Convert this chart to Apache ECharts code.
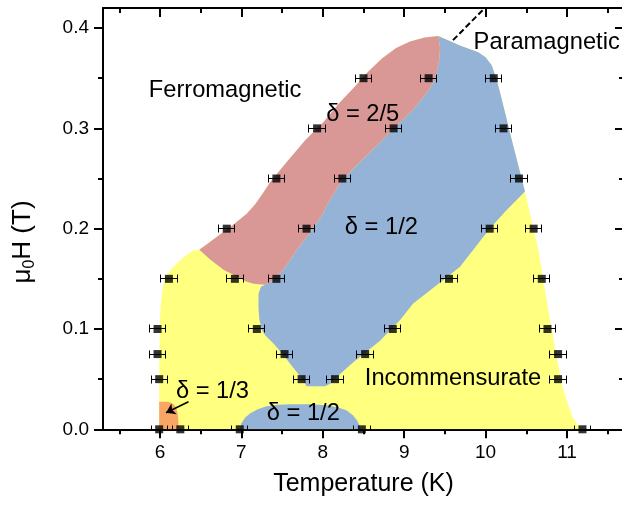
<!DOCTYPE html>
<html><head><meta charset="utf-8">
<script src="https://cdn.jsdelivr.net/npm/echarts@6/dist/echarts.min.js"></script>
<style>html,body{margin:0;padding:0;background:#fff}#c{width:622px;height:508px}</style>
</head><body><div id="c"></div>
<script>
const FONT = '"Liberation Sans", Arial, Helvetica, sans-serif';

// ---- phase-region outlines: [Temperature (K), mu0H (T)] ----
const envelope = [[5.99,0],[5.99,0.06],[6.0,0.11],[6.01,0.125],[6.03,0.14],[6.06,0.15],[6.12,0.158],[6.2,0.165],[6.3,0.172],[6.4,0.178],[6.483,0.179],
  [6.6,0.186],[6.7,0.192],[6.9,0.204],[7.065,0.215],[7.167,0.224],[7.27,0.236],[7.35,0.246],[7.557,0.2665],[7.781,0.288],[8.006,0.306],[8.211,0.326],[8.375,0.34],[8.55,0.356],[8.723,0.3695],[8.9,0.38],[9.071,0.3867],[9.25,0.3905],[9.419,0.392],
  [9.7,0.382],[9.91,0.376],[10.0,0.371],[10.075,0.363],[10.13,0.35],[10.177,0.336],[10.33,0.286],[10.484,0.237],[10.648,0.179],[10.791,0.109],[10.934,0.046],[10.995,0.029],[11.06,0.014],[11.16,0]];

const bluePhase = [[9.419,0.392],[9.7,0.382],[9.91,0.376],[10.0,0.371],[10.075,0.363],[10.13,0.35],[10.177,0.336],[10.33,0.286],[10.484,0.237],
  [10.25,0.218],[10.05,0.2],[9.686,0.162],[9.5,0.15],[9.26,0.135],[9.11,0.1255],[8.95,0.109],[8.7,0.088],[8.5,0.075],[8.35,0.065],[8.21,0.055],[8.1,0.046],[8.03,0.043],
  [7.8,0.043],[7.76,0.049],[7.65,0.06],[7.515,0.074],[7.4,0.085],[7.3,0.093],[7.25,0.099],[7.22,0.11],[7.21,0.12],[7.21,0.135],[7.24,0.142],[7.29,0.144],
  [7.38,0.148],[7.47,0.155],[7.55,0.163],[7.68,0.179],[7.85,0.197],[8.0,0.215],[8.048,0.223],[8.23,0.248],[8.457,0.2665],[8.7,0.286],[8.95,0.306],[9.1,0.318],[9.234,0.331],[9.3,0.338],[9.357,0.346],[9.4,0.357],[9.43,0.368],[9.44,0.38]];

const pinkPhase = [[6.483,0.179],[6.6,0.186],[6.7,0.192],[6.9,0.204],[7.065,0.215],[7.167,0.224],[7.27,0.236],[7.35,0.246],[7.557,0.2665],[7.781,0.288],[8.006,0.306],[8.211,0.326],[8.375,0.34],[8.55,0.356],[8.723,0.3695],[8.9,0.38],[9.071,0.3867],[9.25,0.3905],[9.419,0.392],
  [9.44,0.38],[9.43,0.368],[9.4,0.357],[9.357,0.346],[9.3,0.338],[9.234,0.331],[9.1,0.318],[8.95,0.306],[8.7,0.286],[8.457,0.2665],[8.23,0.248],[8.048,0.223],[8.0,0.215],[7.85,0.197],[7.68,0.179],[7.55,0.163],[7.47,0.155],[7.38,0.148],[7.29,0.144],
  [7.15,0.145],[7.065,0.147],[6.9,0.154],[6.78,0.159],[6.62,0.169]];

const blueLow = [[6.98,0],[7.0,0.006],[7.05,0.012],[7.11,0.016],[7.2,0.02],[7.31,0.023],[7.45,0.0245],[7.6,0.025],[7.85,0.025],[8.05,0.024],[8.18,0.022],[8.29,0.019],[8.37,0.014],[8.42,0.009],[8.45,0.004],[8.46,0]];

const orangePhase = [[5.99,0],[5.99,0.0275],[6.08,0.0275],[6.13,0.0268],[6.17,0.0248],[6.2,0.021],[6.215,0.016],[6.225,0.01],[6.23,0]];

// ---- measured points (T in K, H in T) with horizontal errors ----
const pointsT = [8.50,9.30,10.10, 7.93,8.87,10.22, 7.43,8.24,10.41, 6.82,7.80,10.05,10.59, 6.11,6.92,7.43,9.55,10.69, 5.97,7.19,8.86,10.76, 5.97,7.53,8.52,10.89, 5.99,7.74,8.15,10.89, 5.99,6.25,6.98,8.48,11.19];
const pointsH = [0.35,0.35,0.35, 0.30,0.30,0.30, 0.25,0.25,0.25, 0.20,0.20,0.20,0.20, 0.15,0.15,0.15,0.15,0.15, 0.10,0.10,0.10,0.10, 0.075,0.075,0.075,0.075, 0.05,0.05,0.05,0.05, 0,0,0,0,0];
const errT = pointsT.map(() => 0.1);

// ---- pointer lines ----
const paraPointer = [[9.60,0.388],[9.99,0.42]];
const arrowOneThird = [[6.35,0.0275],[6.074,0.0165]];

// ---- ticks ----
const xMajorTicks = [6,7,8,9,10,11];
const xMinorTicks = [5.5,6.5,7.5,8.5,9.5,10.5,11.5];
const yMajorTicks = [0,0.1,0.2,0.3,0.4];
const yMinorTicks = [0.05,0.15,0.25,0.35];

// ---- annotations ----
const annotations = [
  {text:'Ferromagnetic', T:6.80, H:0.338},
  {text:'δ = 2/5', T:8.49, H:0.3135},
  {text:'δ = 1/2', T:8.72, H:0.2015},
  {text:'Paramagnetic', T:10.75, H:0.386},
  {text:'Incommensurate', T:9.60, H:0.051},
  {text:'δ = 1/3', T:6.645, H:0.038},
  {text:'δ = 1/2', T:7.76, H:0.0155}
];

const X_MIN = 5.3, X_MAX = 11.7, Y_MIN = 0, Y_MAX = 0.42;
const lineBlack = {color:'#000', width:2};

function xAx(pos, ticks, len, inside, showLine, showLabel, extra) {
  return Object.assign({
    type:'value', min:X_MIN, max:X_MAX, position:pos, gridIndex:0,
    axisLine:{show:showLine, onZero:false, lineStyle:lineBlack},
    axisTick:{show:true, customValues:ticks, length:len, inside:inside, lineStyle:lineBlack},
    axisLabel:{show:showLabel, customValues:xMajorTicks, color:'#000', fontSize:19, fontFamily:FONT, margin:14},
    splitLine:{show:false}, minorTick:{show:false}
  }, extra || {});
}
function yAx(pos, ticks, len, inside, showLine, showLabel) {
  return {
    type:'value', min:Y_MIN, max:Y_MAX, position:pos, gridIndex:0,
    axisLine:{show:showLine, onZero:false, lineStyle:lineBlack},
    axisTick:{show:true, customValues:ticks, length:len, inside:inside, lineStyle:lineBlack},
    axisLabel:{show:showLabel, customValues:yMajorTicks, color:'#000', fontSize:19, fontFamily:FONT, margin:14,
      formatter:v => Number(v).toFixed(1)},
    splitLine:{show:false}, minorTick:{show:false}
  };
}

function regionSeries(name, pts, color) {
  return {
    type:'custom', name, coordinateSystem:'cartesian2d', xAxisIndex:0, yAxisIndex:0,
    clip:true, silent:true, z:1, data:pts,
    renderItem(params, api) {
      if (params.dataIndex !== 0) return null;
      return {type:'polygon', shape:{points:pts.map(p => api.coord(p))}, style:{fill:color}};
    }
  };
}

const crisp = v => Math.round(v - 0.5) + 0.5;

const chart = echarts.init(document.getElementById('c'), null, {renderer:'canvas'});
chart.setOption({
  animation:false,
  backgroundColor:'#fff',
  grid:{left:103, top:8, width:521, height:421.3, outerBoundsMode:'none', containLabel:false},
  xAxis:[
    xAx('bottom', xMajorTicks, 9, false, true, true,
      {name:'Temperature (K)', nameLocation:'middle', nameGap:42, nameTextStyle:{color:'#000', fontSize:25, fontFamily:FONT}}),
    xAx('bottom', xMinorTicks, 5, false, false, false),
    xAx('top', xMajorTicks, 9, true, true, false),
    xAx('top', xMinorTicks, 5, true, false, false)
  ],
  yAxis:[
    yAx('left', yMajorTicks, 9, false, true, true),
    yAx('left', yMinorTicks, 5, false, false, false),
    yAx('right', yMajorTicks, 9, true, true, false),
    yAx('right', yMinorTicks, 5, true, false, false)
  ],
  graphic:[{
    type:'text', x:23, y:242, rotation:Math.PI/2, z:100,
    style:{
      text:'{a|μ}{b|0}{a|H (T)}',
      align:'center', verticalAlign:'middle', fill:'#000',
      rich:{
        a:{fontSize:26, fontFamily:FONT, fill:'#000', lineHeight:30},
        b:{fontSize:16, fontFamily:FONT, fill:'#000', verticalAlign:'bottom', lineHeight:16}
      }
    }
  }],
  series:[
    regionSeries('Incommensurate', envelope, '#FFFF80'),
    regionSeries('delta 1/2', bluePhase, '#95B3D7'),
    regionSeries('delta 2/5', pinkPhase, '#D99896'),
    regionSeries('delta 1/2 low', blueLow, '#95B3D7'),
    regionSeries('delta 1/3', orangePhase, '#F8A565'),
    {
      type:'line', data:paraPointer, symbol:'none', clip:true, z:5, silent:true,
      lineStyle:{color:'#000', width:2, type:[6,3]}
    },
    {
      type:'lines', coordinateSystem:'cartesian2d', xAxisIndex:0, yAxisIndex:0, z:5, silent:true,
      symbol:['none','arrow'], symbolSize:9,
      lineStyle:{color:'#000', width:1.5, opacity:1, curveness:0},
      data:[{coords:arrowOneThird}]
    },
    {
      type:'custom', name:'errors', clip:true, z:6, silent:true,
      data:pointsT.map((t,i) => [t, pointsH[i], errT[i]]),
      encode:{x:0, y:1},
      renderItem(params, api) {
        const t = api.value(0), h = api.value(1), e = api.value(2);
        const l = api.coord([t - e, h]), r = api.coord([t + e, h]);
        const y = crisp(l[1]), xl = crisp(l[0]), xr = crisp(r[0]);
        const c = 4, st = {stroke:'#000', lineWidth:1};
        return {type:'group', children:[
          {type:'line', shape:{x1:xl, y1:y, x2:xr, y2:y}, style:st},
          {type:'line', shape:{x1:xl, y1:y-c, x2:xl, y2:y+c}, style:st},
          {type:'line', shape:{x1:xr, y1:y-c, x2:xr, y2:y+c}, style:st}
        ]};
      }
    },
    {
      type:'scatter', name:'points', symbol:'rect', symbolSize:8, clip:true, z:7, silent:true,
      itemStyle:{color:'#000'},
      data:pointsT.map((t,i) => [t, pointsH[i]])
    },
    {
      type:'custom', name:'labels', clip:false, z:8, silent:true,
      data:annotations.map(a => [a.T, a.H]),
      renderItem(params, api) {
        const a = annotations[params.dataIndex];
        const p = api.coord([a.T, a.H]);
        return {type:'text', x:p[0], y:p[1],
          style:{text:a.text, fill:'#000', fontSize:23.7, fontFamily:FONT, align:'center', verticalAlign:'middle'}};
      }
    }
  ]
});
</script></body></html>
